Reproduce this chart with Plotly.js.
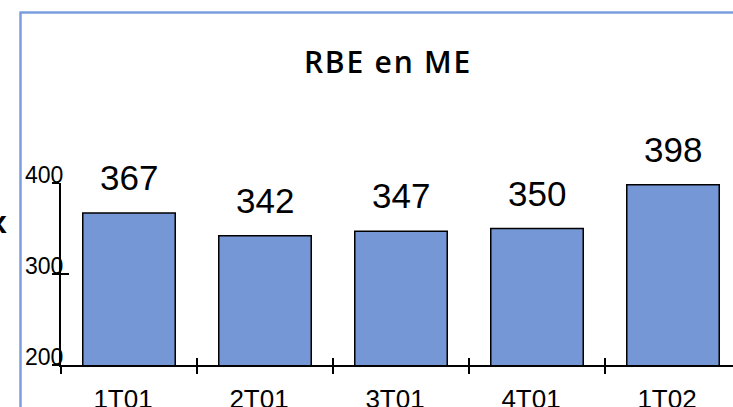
<!DOCTYPE html>
<html><head><meta charset="utf-8">
<script src="https://cdn.plot.ly/plotly-3.0.1.min.js"></script>
<style>html,body{margin:0;padding:0;overflow:hidden;background:#fff}
.gtitle{letter-spacing:1.8px}</style>
</head><body><div id="chart" style="width:733px;height:407px"></div>
<script>
const categories = ["1T01","2T01","3T01","4T01","1T02"];
const values = [367, 342, 347, 350, 398];
const yTicks = [200, 300, 400];
const titleText = "RBE en ME";

const W = 733, H = 407, L = 61, R = 0, T = 183, B = 42;
const pw = W - L - R, ph = H - T - B;
const px2paperX = px => (px - L) / pw;
const px2paperY = py => (H - B - py) / ph;
const xRange = [-0.5, -0.5 + pw / 136];

const numFont = 'Liberation Sans, Arial, sans-serif';

const bars = {
  type: 'bar', x: categories, y: values, width: 0.68,
  marker: {color: '#7597d6', line: {color: '#000', width: 1.5}},
  hoverinfo: 'none', cliponaxis: false
};
// empty helper trace so the overlaid tick-only axes are drawn
const tickHelper = {type: 'scatter', x: [], y: [], xaxis: 'x2', yaxis: 'y2', hoverinfo: 'none'};

const annotations = categories.map((c, i) => ({
  x: c, y: values[i], xref: 'x', yref: 'y', text: String(values[i]),
  showarrow: false, yanchor: 'bottom', yshift: 14,
  font: {family: numFont, size: 35, color: '#000'}
}));
annotations.push({
  xref: 'paper', yref: 'paper', x: px2paperX(9), y: px2paperY(222),
  xanchor: 'right', yanchor: 'middle', text: 'x', showarrow: false,
  font: {family: numFont, size: 32, color: '#000', weight: 'bold'}
});

const borderColor = '#7b9ddf';
const shapes = [
  {type: 'line', xref: 'paper', yref: 'paper', x0: px2paperX(20.5), x1: px2paperX(20.5), y0: px2paperY(12.5), y1: px2paperY(420), line: {color: borderColor, width: 2.5}},
  {type: 'line', xref: 'paper', yref: 'paper', x0: px2paperX(19.5), x1: px2paperX(745), y0: px2paperY(12.5), y1: px2paperY(12.5), line: {color: borderColor, width: 2.5}}
];

const layout = {
  width: W, height: H,
  margin: {l: L, r: R, t: T, b: B, pad: 0},
  paper_bgcolor: '#fff', plot_bgcolor: 'rgba(0,0,0,0)',
  showlegend: false,
  title: {text: titleText, font: {family: 'Open Sans, DejaVu Sans, sans-serif', size: 30, color: '#000', weight: 600},
          xref: 'container', yref: 'container', x: 388 / W, y: 1 - 62 / H, xanchor: 'center', yanchor: 'middle'},
  xaxis: {
    type: 'category', range: xRange, fixedrange: true,
    showline: true, linecolor: '#000', linewidth: 2,
    ticks: 'outside', tickson: 'boundaries', ticklen: 7, tickwidth: 1.5, tickcolor: '#000',
    tickfont: {family: numFont, size: 26, color: '#000'},
    ticklabelstandoff: 10, ticklabelshift: -6,
    showgrid: false, zeroline: false
  },
  yaxis: {
    range: [200, 400], fixedrange: true, tickvals: yTicks,
    showline: true, linecolor: '#000', linewidth: 2,
    ticks: 'outside', ticklen: 7, tickwidth: 1.5, tickcolor: '#000',
    tickfont: {family: numFont, size: 23, color: '#000'},
    ticklabelstandoff: -16, ticklabelshift: -8,
    showgrid: false, zeroline: false
  },
  xaxis2: {
    overlaying: 'x', anchor: 'y2', range: xRange, tick0: -0.5, dtick: 1,
    ticks: 'inside', ticklen: 7, tickwidth: 1.5, tickcolor: '#000',
    showticklabels: false, showline: false, showgrid: false, zeroline: false, fixedrange: true
  },
  yaxis2: {
    overlaying: 'y', anchor: 'x2', range: [200, 400], tickvals: yTicks,
    ticks: 'inside', ticklen: 8, tickwidth: 1.5, tickcolor: '#000',
    showticklabels: false, showline: false, showgrid: false, zeroline: false, fixedrange: true
  },
  annotations: annotations,
  shapes: shapes
};

Plotly.newPlot('chart', [bars, tickHelper], layout, {displayModeBar: false, staticPlot: true});
</script>
</body></html>
